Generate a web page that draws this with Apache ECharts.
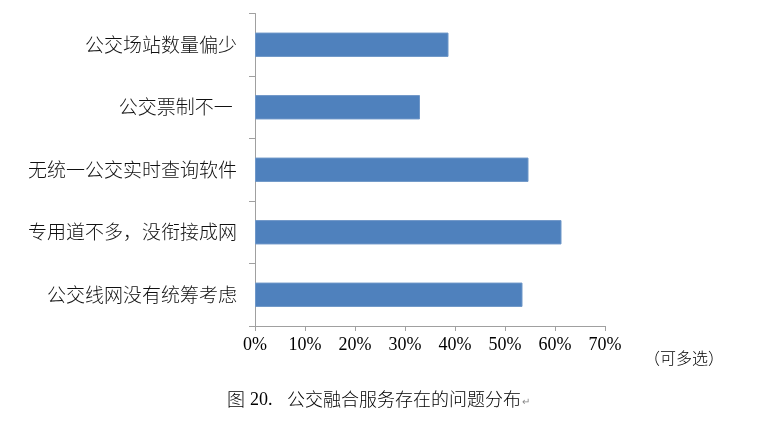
<!DOCTYPE html>
<html><head><meta charset="utf-8">
<script src="https://cdn.jsdelivr.net/npm/echarts@6/dist/echarts.min.js"></script>
<style>html,body{margin:0;padding:0;background:#fff}#c{width:768px;height:421px}</style>
</head><body><div id="c"></div>
<script>
const categories = ['公交场站数量偏少','公交票制不一 ','无统一公交实时查询软件','专用道不多，没衔接成网','公交线网没有统筹考虑'];
const values = [0.387, 0.330, 0.547, 0.613, 0.535];
const tickLabels = ['0%','10%','20%','30%','40%','50%','60%','70%'];
const captionHead = '图';
const captionNum = '20.';
const captionText = '公交融合服务存在的问题分布';
const note = '（可多选）';

const chart = echarts.init(document.getElementById('c'));
chart.setOption({
  animation: false,
  backgroundColor: '#fff',
  grid: {left: 255, right: 163, top: 13.5, bottom: 95, containLabel: false},
  xAxis: {
    type: 'value', min: 0, max: 0.7, interval: 0.1,
    axisLine: {show: true, lineStyle: {color: '#a0a0a0', width: 1}},
    axisTick: {show: true, length: 5, lineStyle: {color: '#a0a0a0'}},
    splitLine: {show: false},
    axisLabel: {
      margin: 10, color: '#000', fontSize: 18, fontFamily: 'Liberation Serif',
      formatter: function (v) { return tickLabels[Math.round(v * 10)]; }
    }
  },
  yAxis: {
    type: 'category', data: categories, inverse: true,
    axisLine: {show: true, lineStyle: {color: '#a0a0a0', width: 1}},
    axisTick: {show: true, length: 6, lineStyle: {color: '#a0a0a0'}},
    axisLabel: {margin: 18, color: '#111', fontSize: 19, fontFamily: 'Noto Sans CJK SC', fontWeight: 300}
  },
  series: [{
    type: 'bar', data: values, barCategoryGap: '61%',
    itemStyle: {color: '#4F81BD', borderColor: '#6f97c8', borderWidth: 1}
  }],
  graphic: [
    {type: 'text', left: 227, top: 390, style: {text: captionHead, fontSize: 18, fontFamily: 'Noto Sans CJK SC', fontWeight: 300, fill: '#000'}},
    {type: 'text', left: 250, top: 391, style: {text: captionNum, fontSize: 18, fontFamily: 'Liberation Serif', fill: '#000'}},
    {type: 'text', left: 287, top: 390, style: {text: captionText, fontSize: 18, fontFamily: 'Noto Sans CJK SC', fontWeight: 300, fill: '#000'}},
    {type: 'text', left: 522, top: 397, style: {text: '↵', fontSize: 10, fill: '#888'}},
    {type: 'text', left: 644, top: 350, style: {text: note, fontSize: 16, fontFamily: 'Noto Sans CJK SC', fontWeight: 300, fill: '#000'}}
  ]
});
</script></body></html>
